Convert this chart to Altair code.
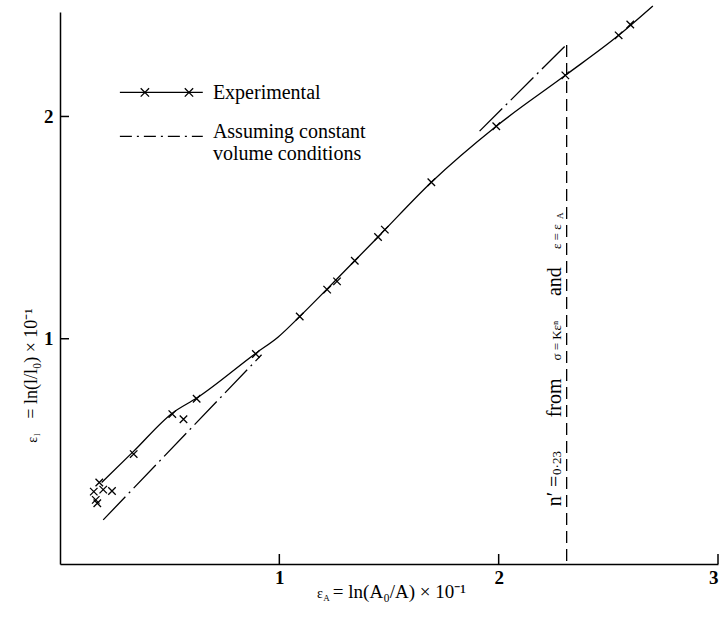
import altair as alt
import pandas as pd

# ---- data ----
exp_x = [0.154, 0.163, 0.170, 0.179, 0.197, 0.237, 0.336, 0.512, 0.563, 0.623, 0.893,
         1.093, 1.218, 1.263, 1.344, 1.450, 1.481, 1.693, 1.989, 2.304, 2.547, 2.600]
exp_y = [0.312, 0.275, 0.260, 0.353, 0.321, 0.315, 0.481, 0.661, 0.638, 0.730, 0.931,
         1.100, 1.221, 1.258, 1.351, 1.458, 1.491, 1.704, 1.956, 2.185, 2.365, 2.414]

curve_x = [0.190, 0.334, 0.512, 0.623, 0.893, 0.995, 1.093, 1.218, 1.344, 1.450,
           1.693, 1.989, 2.304, 2.547, 2.703]
curve_y = [0.353, 0.492, 0.665, 0.733, 0.935, 1.008, 1.100, 1.224, 1.351, 1.458,
           1.704, 1.956, 2.185, 2.365, 2.497]

cv_x = [0.197, 0.919, 1.913, 2.310]
cv_y = [0.185, 0.928, 1.934, 2.324]
cv_seg = ["a", "a", "b", "b"]

n_line_x = 2.31
n_line_top = 2.324

x_ticks = [1, 2, 3]
y_ticks = [1, 2]

leg_line_x = [0.273, 0.651]
leg_marker_x = [0.387, 0.588]
leg_exp_y = 2.108
leg_cv_y = 1.910
leg_text_x = 0.697
leg_texts = ["Experimental", "Assuming constant", "volume conditions"]
leg_text_y = [2.105, 1.928, 1.829]

ann_big_text = ["n\u2032 =", "from", "and"]
ann_big_y = [0.315, 0.734, 1.257]
ann_small_text = ["0\u00b723", "\u03c3 = K\u03b5\u207f", "\u03b5 = \u03b5"]
ann_small_y = [0.441, 0.991, 1.459]
ann_x = 2.283

W, H = 658, 552
SERIF = "Liberation Serif"
XS = alt.Scale(domain=[0, 3], nice=False, zero=False)
YS = alt.Scale(domain=[-0.0135, 2.47], nice=False, zero=False)
CROSS = "M-1,-1L1,1M-1,1L1,-1"


def enc(df):
    return alt.Chart(df)


def xy():
    return dict(x=alt.X("x:Q", scale=XS), y=alt.Y("y:Q", scale=YS))


def texts(xs, ys, ts, size, **kw):
    df = pd.DataFrame({"x": xs, "y": ys, "t": ts})
    return alt.Chart(df).mark_text(font=SERIF, fontSize=size, color="black", **kw).encode(
        text="t:N", **xy())


exp_df = pd.DataFrame({"x": exp_x, "y": exp_y})
curve_df = pd.DataFrame({"x": curve_x, "y": curve_y, "o": list(range(len(curve_x)))})
cv_df = pd.DataFrame({"x": cv_x, "y": cv_y, "seg": cv_seg})

base_x = alt.X("x:Q", scale=XS, axis=alt.Axis(
    values=x_ticks, title=None, ticks=False, tickSize=0, grid=False, domainColor="black",
    domainWidth=1.5, labelFont="Liberation Serif", labelFontWeight="bold", labelFontSize=19,
    labelColor="black", labelPadding=4, format="d"))
base_y = alt.Y("y:Q", scale=YS, axis=alt.Axis(
    values=y_ticks, title=None, ticks=False, tickSize=0, grid=False, domainColor="black",
    domainWidth=1.5, labelFont="Liberation Serif", labelFontWeight="bold", labelFontSize=19,
    labelColor="black", labelPadding=7, format="d"))

curve = alt.Chart(curve_df).mark_line(color="black", strokeWidth=1.3, interpolate="monotone").encode(
    x=base_x, y=base_y, order="o:Q")

points = alt.Chart(exp_df).mark_point(shape=CROSS, size=56, color="black", strokeWidth=1.3,
                                       filled=False, opacity=1).encode(**xy())

cv = alt.Chart(cv_df).mark_line(color="black", strokeWidth=1.3, strokeDash=[32, 5, 2, 5]).encode(
    detail="seg:N", **xy())

vline = alt.Chart(pd.DataFrame({"x": [n_line_x], "y": [0], "y2": [n_line_top]})).mark_rule(
    color="black", strokeWidth=1.3, strokeDash=[12, 6]).encode(y2="y2:Q", **xy())

xt = alt.Chart(pd.DataFrame({"x": x_ticks})).mark_rule(color="black", strokeWidth=1.5).encode(
    x=alt.X("x:Q", scale=XS), y=alt.value(H), y2=alt.value(H - 10))
yt = alt.Chart(pd.DataFrame({"y": y_ticks})).mark_rule(color="black", strokeWidth=1.5).encode(
    y=alt.Y("y:Q", scale=YS), x=alt.value(0), x2=alt.value(9))

# legend
leg_exp_line = alt.Chart(pd.DataFrame({"x": leg_line_x, "y": [leg_exp_y] * 2})).mark_line(
    color="black", strokeWidth=1.3).encode(**xy())
leg_marks = alt.Chart(pd.DataFrame({"x": leg_marker_x, "y": [leg_exp_y] * 2})).mark_point(
    shape=CROSS, size=70, color="black", strokeWidth=1.3, filled=False, opacity=1).encode(**xy())
leg_cv_line = alt.Chart(pd.DataFrame({"x": leg_line_x, "y": [leg_cv_y] * 2})).mark_line(
    color="black", strokeWidth=1.3, strokeDash=[12, 5, 2, 5]).encode(**xy())
leg_txt = texts([leg_text_x] * 3, leg_text_y, leg_texts, 20, align="left", baseline="middle")

# rotated annotation along the dashed line
ann_big = texts([ann_x] * 3, ann_big_y, ann_big_text, 20, angle=270, align="center",
                baseline="alphabetic")
ann_small = texts([ann_x] * 3, ann_small_y, ann_small_text, 13, angle=270, align="center",
                  baseline="alphabetic")
ann_sub = texts([2.293], [1.553], ["A"], 9, angle=270, align="center", baseline="alphabetic")

# axis titles
xtitle_main = texts([1.244], [-0.165], ["= ln(A\u2080/A)  \u00d7  10\u207b\u00b9"], 19,
                    align="left", baseline="alphabetic")
xtitle_eps = texts([1.185], [-0.165], ["\u03b5"], 14, align="center", baseline="alphabetic")
xtitle_sub = texts([1.215], [-0.178], ["A"], 9, align="center", baseline="alphabetic")
ytitle_main = texts([-0.105], [0.64], ["= ln(l/l\u2080) \u00d7 10\u207b\u00b9"], 18,
                    angle=270, align="left", baseline="alphabetic")
ytitle_eps = texts([-0.105], [0.545], ["\u03b5"], 14, angle=270, align="center",
                   baseline="alphabetic")
ytitle_sub = texts([-0.093], [0.568], ["l"], 9, angle=270, align="center", baseline="alphabetic")

chart = alt.layer(
    curve, cv, vline, points, xt, yt,
    leg_exp_line, leg_marks, leg_cv_line, leg_txt,
    ann_big, ann_small, ann_sub,
    xtitle_main, xtitle_eps, xtitle_sub, ytitle_main, ytitle_eps, ytitle_sub,
).properties(
    width=W, height=H,
    autosize=alt.AutoSizeParams(type="none"),
    padding={"left": 60, "top": 12, "right": 7, "bottom": 59},
    background="white",
).configure_view(stroke=None)

chart.save("out.html", embed_options={"renderer": "svg", "actions": False})
